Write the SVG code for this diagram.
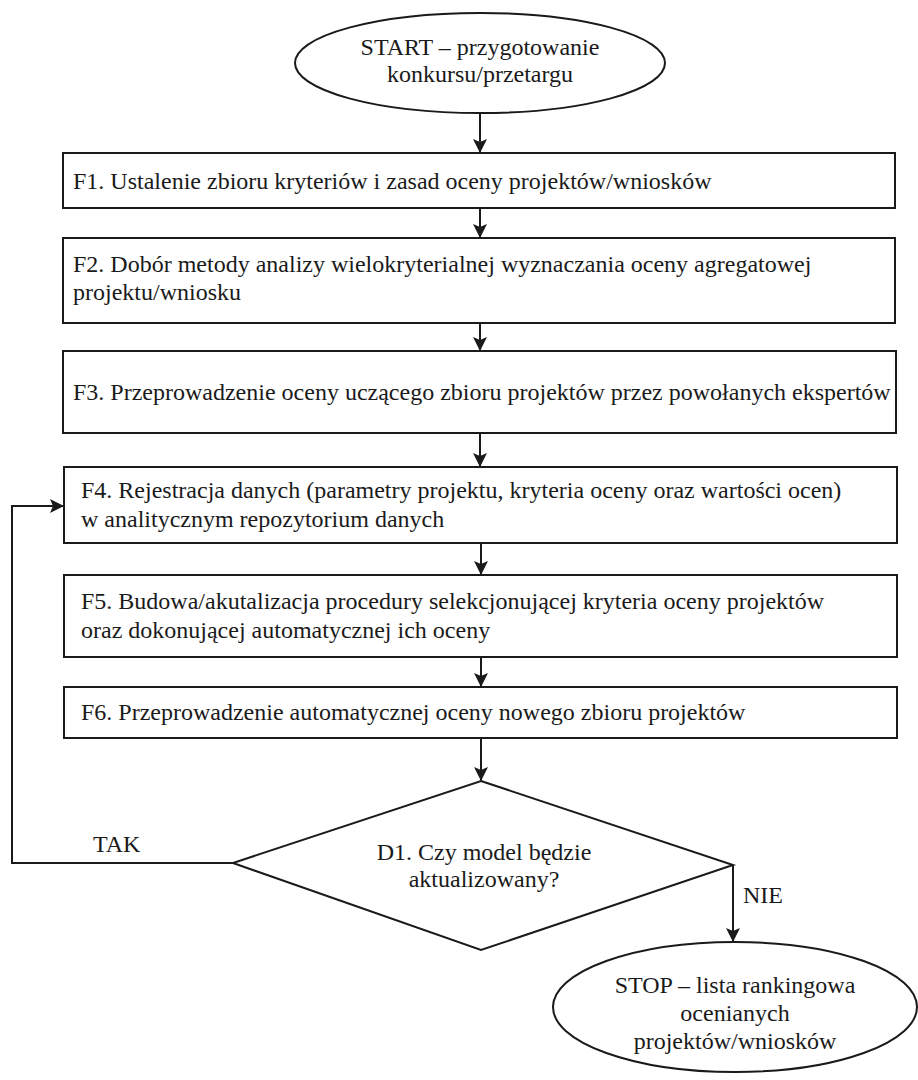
<svg xmlns="http://www.w3.org/2000/svg" width="918" height="1080" viewBox="0 0 918 1080">
<style>
.shape{fill:#fff;stroke:#1a1a1a;stroke-width:2}
.ln{fill:none;stroke:#1a1a1a;stroke-width:2}
text{font-family:"Liberation Serif","Times New Roman",serif;font-size:24px;fill:#1a1a1a}
.c{text-anchor:middle}
</style>
<defs>
<marker id="ah" markerUnits="userSpaceOnUse" markerWidth="14" markerHeight="18" viewBox="0 0 14 18" refX="14" refY="9" orient="auto">
<path d="M0,2 L14,9 L0,16 L3,9 Z" fill="#1a1a1a"/>
</marker>
</defs>
<rect width="918" height="1080" fill="#fff"/>
<g id="connectors">
<line class="ln" x1="480" y1="113" x2="480" y2="153" marker-end="url(#ah)"/>
<line class="ln" x1="480" y1="208" x2="480" y2="238" marker-end="url(#ah)"/>
<line class="ln" x1="480" y1="323" x2="480" y2="351" marker-end="url(#ah)"/>
<line class="ln" x1="480" y1="433" x2="480" y2="467" marker-end="url(#ah)"/>
<line class="ln" x1="481" y1="543" x2="481" y2="575" marker-end="url(#ah)"/>
<line class="ln" x1="481" y1="657" x2="481" y2="687" marker-end="url(#ah)"/>
<line class="ln" x1="481" y1="738" x2="481" y2="781" marker-end="url(#ah)"/>
<polyline class="ln" points="233,863 12,863 12,506 64,506" marker-end="url(#ah)"/>
<line class="ln" x1="733" y1="865" x2="733" y2="942" marker-end="url(#ah)"/>
<text x="93" y="852">TAK</text>
<text x="743" y="903">NIE</text>
</g>
<g id="start">
<ellipse class="shape" cx="480" cy="63" rx="185" ry="50"/>
<text class="c" x="480" y="55">START – przygotowanie</text>
<text class="c" x="480" y="82">konkursu/przetargu</text>
</g>
<g id="f1">
<rect class="shape" x="63" y="153" width="832" height="55"/>
<text x="73" y="189">F1. Ustalenie zbioru kryteriów i zasad oceny projektów/wniosków</text>
</g>
<g id="f2">
<rect class="shape" x="63" y="238" width="832" height="85"/>
<text x="73" y="272">F2. Dobór metody analizy wielokryterialnej wyznaczania oceny agregatowej</text>
<text x="73" y="300">projektu/wniosku</text>
</g>
<g id="f3">
<rect class="shape" x="63" y="351" width="833" height="82"/>
<text x="73" y="400">F3. Przeprowadzenie oceny uczącego zbioru projektów przez powołanych ekspertów</text>
</g>
<g id="f4">
<rect class="shape" x="64" y="467" width="833" height="76"/>
<text x="81" y="498">F4. Rejestracja danych (parametry projektu, kryteria oceny oraz wartości ocen)</text>
<text x="81" y="527">w analitycznym repozytorium danych</text>
</g>
<g id="f5">
<rect class="shape" x="64" y="575" width="833" height="82"/>
<text x="81" y="609">F5. Budowa/akutalizacja procedury selekcjonującej kryteria oceny projektów</text>
<text x="81" y="638">oraz dokonującej automatycznej ich oceny</text>
</g>
<g id="f6">
<rect class="shape" x="64" y="687" width="833" height="51"/>
<text x="81" y="720">F6. Przeprowadzenie automatycznej oceny nowego zbioru projektów</text>
</g>
<g id="d1">
<polygon class="shape" points="481,781 733,865 481,950 233,863"/>
<text class="c" x="484" y="860">D1. Czy model będzie</text>
<text class="c" x="484" y="887">aktualizowany?</text>
</g>
<g id="stop">
<ellipse class="shape" cx="735" cy="1007" rx="182" ry="65"/>
<text class="c" x="735" y="993">STOP – lista rankingowa</text>
<text class="c" x="735" y="1021">ocenianych</text>
<text class="c" x="735" y="1049">projektów/wniosków</text>
</g>
</svg>
